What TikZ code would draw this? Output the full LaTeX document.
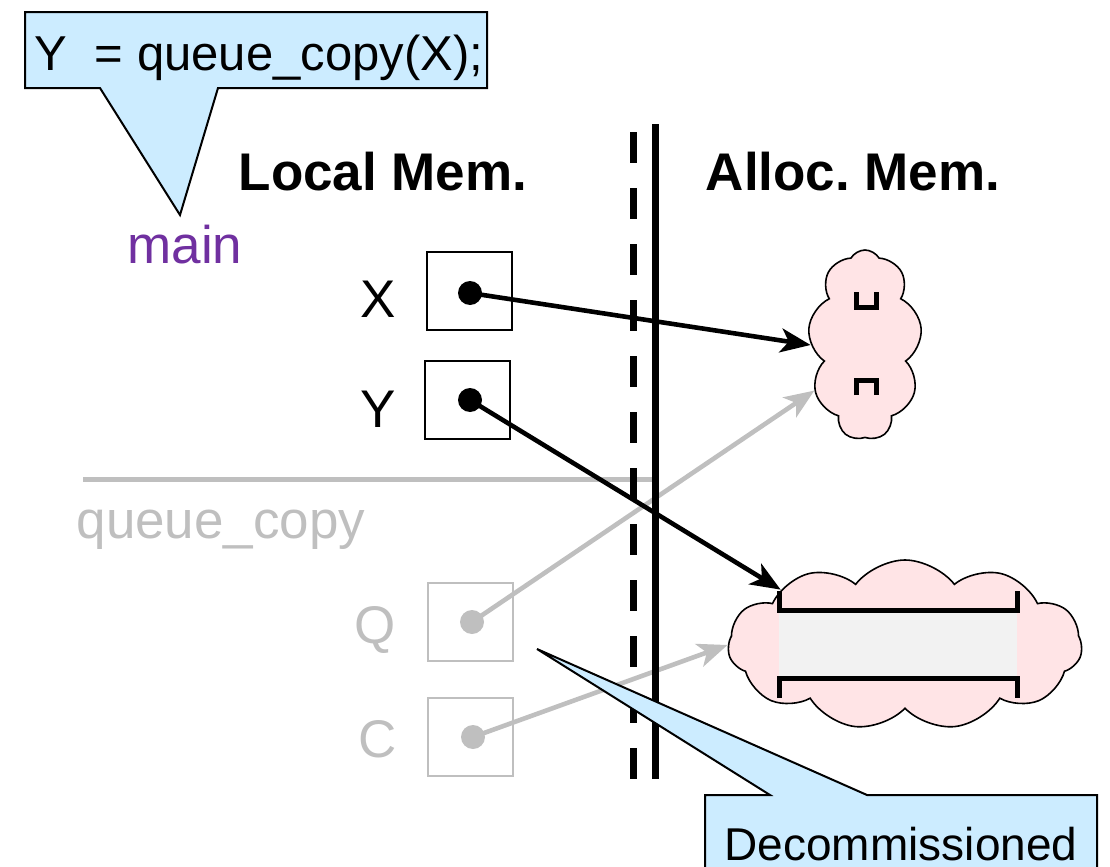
\documentclass[tikz,border=0pt]{standalone}
\usepackage{fontspec}
\setmainfont{Liberation Sans}
\usetikzlibrary{shapes.symbols,arrows.meta}
\definecolor{calloutblue}{RGB}{204,236,255}
\definecolor{cloudpink}{RGB}{255,228,230}
\definecolor{oldgray}{RGB}{191,191,191}
\definecolor{mainpurple}{RGB}{112,48,160}
\definecolor{queuegray}{RGB}{242,242,242}
\frenchspacing
\tikzset{
  big/.style={font=\fontsize{26.5}{30}\selectfont, anchor=base, inner sep=0},
  head/.style={font=\fontsize{26.5}{30}\selectfont\bfseries, anchor=base, inner sep=0},
  cell/.style={draw, line width=1pt, minimum width=42.5pt, minimum height=39pt, inner sep=0},
  dot/.style={circle, fill, minimum size=12pt, inner sep=0},
  ptr/.style={line width=2.3pt, -{Stealth[length=15pt,width=12pt,inset=4pt]}},
  heap/.style={cloud, draw, fill=cloudpink, line width=0.8pt, cloud puffs=11,
    cloud puff arc=105, cloud ignores aspect, inner sep=0},
  qend/.style={line width=2.5pt},
  callout/.style={draw, fill=calloutblue, line width=1pt},
}
\begin{document}
\begin{tikzpicture}[x=0.5pt,y=-0.5pt]
    \useasboundingbox (0,0) rectangle (1110,867);

    % frame of queue_copy (faded)
    \draw[oldgray, line width=2.5pt] (83,479) -- (655,479);
    \node[big, oldgray] (qcopy) at (221,538) {queue\_copy};
    \node[big, oldgray] (qlab) at (375,643) {Q};
    \node[big, oldgray] (clab) at (378,757) {C};
    \node[cell, draw=oldgray] (qbox) at (470,622) {};
    \node[cell, draw=oldgray] (cbox) at (470,737) {};
    \node[dot, oldgray] (qdot) at (472,622) {};
    \node[dot, oldgray] (cdot) at (473,737) {};

    % frame of main
    \node[big, mainpurple] (main) at (185,263) {main};
    \node[head] (local) at (383,190) {Local Mem.};
    \node[head] (alloc) at (853,190) {Alloc. Mem.};
    \node[big] (xlab) at (378,317) {X};
    \node[big] (ylab) at (378,427) {Y};
    \node[cell] (xbox) at (469.5,291) {};
    \node[cell] (ybox) at (467.5,400) {};
    \node[dot] (xdot) at (470,293) {};
    \node[dot] (ydot) at (470,400) {};

    % allocated memory
    \node[heap, cloud puffs=9, cloud puff arc=120, minimum width=57pt,
        minimum height=95pt] (small) at (865,345) {};
    \node[heap, minimum width=177pt, minimum height=85pt] (large) at (905,645) {};
    \fill[queuegray] (779,610) rectangle (1017,678);
    \draw[qend] (779,591) -- (779,610) -- (1017,610) -- (1017,591);
    \draw[qend] (779,698) -- (779,678) -- (1017,678) -- (1017,698);
    \draw[qend] (856,292) -- (856,307) -- (876,307) -- (876,292);
    \draw[qend] (856,395) -- (856,380) -- (876,380) -- (876,395);

    \draw[ptr, oldgray] (qdot.center) -- (small.222);
    \draw[ptr, oldgray] (cdot.center) -- (large.west);

    % boundary
    \draw[line width=3.5pt, dash pattern=on 15.5pt off 12.5pt] (633,132) -- (633,779);
    \draw[line width=3.5pt] (655,124) -- (655,779);

    \draw[ptr] (xdot.center) -- (small.west);
    \draw[ptr] (ydot.center) -- (large.156);

    % callouts
    \draw[callout] (25,12) -- (487,12) -- (487,88) -- (218,88) -- (180,215)
        -- (100,88) -- (25,88) -- cycle;
    \node[font=\fontsize{24.5}{28}\selectfont, anchor=base, inner sep=0] (code)
        at (259,70) {Y\ \ = queue\_copy(X);};
    \coordinate (old) at (537,649);
    \draw[callout] (705,880) -- (705,795) -- (770,795) -- (old) -- (867,795)
        -- (1097,795) -- (1097,880);
    \node[font=\fontsize{23}{27}\selectfont, anchor=base, inner sep=0] (decom)
        at (901,860) {Decommissioned};
\end{tikzpicture}
\end{document}
